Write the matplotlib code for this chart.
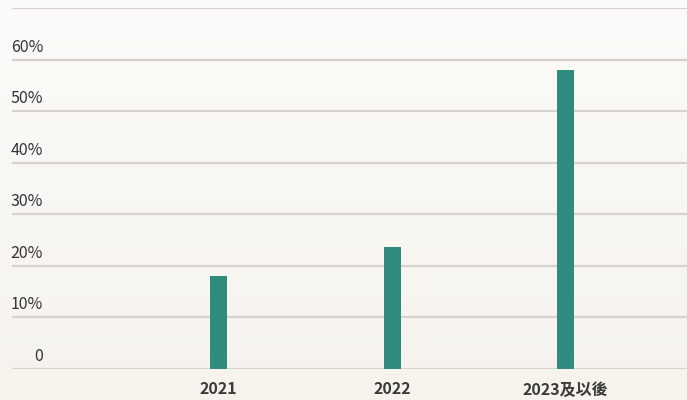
import numpy as np
import matplotlib
matplotlib.use("Agg")
import matplotlib.pyplot as plt
from matplotlib import transforms

plt.rcParams['font.family'] = ['Noto Sans CJK TC', 'DejaVu Sans']

# share of respondents by year
categories = ["2021", "2022", "2023及以後"]
values = [18.0, 23.7, 57.9]
y_ticks = [0, 10, 20, 30, 40, 50, 60, 70]
y_labels = ["0", "10%", "20%", "30%", "40%", "50%", "60%", ""]

bar_color = "#2f8b7e"
grid_color = "#d6d3ce"
text_color = "#333333"

W, H = 687, 400
fig = plt.figure(figsize=(W / 100, H / 100), dpi=100)

# soft vertical gradient behind everything
bg = fig.add_axes([0, 0, 1, 1], zorder=-10)
top = np.array([252, 251, 249]) / 255
bottom = np.array([246, 243, 237]) / 255
t = np.linspace(0, 1, 256)[:, None]
grad = top * (1 - t[..., None]) + bottom * t[..., None]
grad = np.repeat(grad, 2, axis=1)
bg.imshow(grad, aspect="auto", extent=[0, 1, 0, 1])
bg.axis("off")

left = 12 / W
bottom_ax = 1 - 369 / H
top_ax = 1 - 8 / H
ax = fig.add_axes([left, bottom_ax, 1 - left, top_ax - bottom_ax])
ax.patch.set_alpha(0)

x = np.arange(len(categories))
ax.bar(x, values, width=0.098, color=bar_color, zorder=3)

ax.set_ylim(0, 70)
ax.set_xlim(-1.19, 2.70)
for yv in y_ticks:
    ax.axhline(yv, color=grid_color, lw=1.6, zorder=1)

for s in ax.spines.values():
    s.set_visible(False)
ax.set_yticks([])
ax.set_xticks(x)
ax.set_xticklabels(categories, fontsize=11.5, fontweight="bold", color="#3a3a3a")
ax.tick_params(axis="x", length=0, pad=9)

# y labels sit just above their gridlines
lab_tr = transforms.blended_transform_factory(fig.transFigure, ax.transData)
lab_tr = transforms.offset_copy(lab_tr, fig=fig, x=0, y=8, units="dots")
for yv, lab in zip(y_ticks, y_labels):
    if lab:
        ax.text(43 / W, yv, lab, transform=lab_tr, ha="right", va="baseline",
                fontsize=11.5, color=text_color)

fig.savefig("out.png", dpi=100)
